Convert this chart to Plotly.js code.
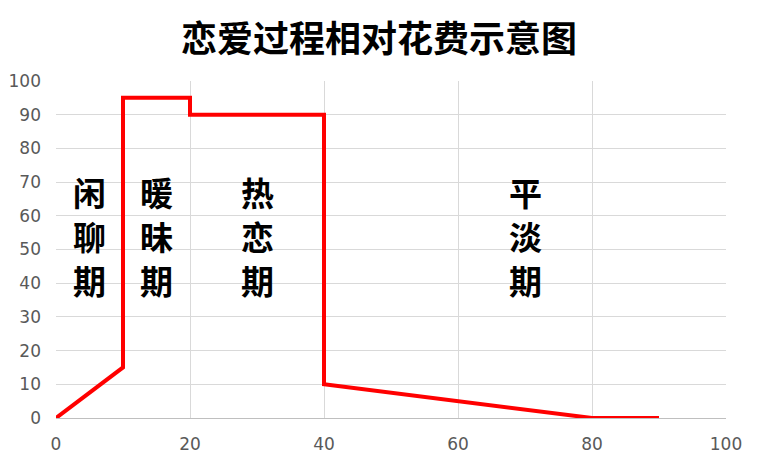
<!DOCTYPE html>
<html>
<head>
<meta charset="utf-8">
<script src="https://cdn.plot.ly/plotly-3.0.1.min.js"></script>
<style>
  html, body { margin: 0; padding: 0; background: #fff; }
  #chart { width: 758px; height: 461px; }
</style>
</head>
<body>
<div id="chart"></div>
<script>
// relative spending over the relationship
var xs = [0, 10, 10, 20, 20, 40, 40, 60, 70, 80, 90];
var ys = [0, 15, 95, 95, 90, 90, 10, 5, 2.5, 0, 0];

// stage labels, written top to bottom one character per row
var stageNames = ['闲聊期', '暖昧期', '热恋期', '平淡期'];
var stageX = [5, 15, 30, 70];
var rowY = [67, 54, 41];

var trace = {
  x: xs,
  y: ys,
  type: 'scatter',
  mode: 'lines',
  line: { color: '#ff0000', width: 4 },
  hoverinfo: 'x+y'
};

var annotations = [];
for (var i = 0; i < stageNames.length; i++) {
  var chars = stageNames[i].split('');
  for (var j = 0; j < chars.length; j++) {
    annotations.push({
      x: stageX[i],
      y: rowY[j],
      xref: 'x',
      yref: 'y',
      text: chars[j],
      showarrow: false,
      font: { family: 'Noto Sans CJK SC', size: 33, color: '#000', weight: 'bold' }
    });
  }
}

var layout = {
  width: 758,
  height: 461,
  margin: { l: 56, r: 32, t: 81, b: 43 },
  paper_bgcolor: '#fff',
  plot_bgcolor: '#fff',
  showlegend: false,
  title: {
    text: '恋爱过程相对花费示意图',
    font: { family: 'Noto Sans CJK SC', size: 36, color: '#000', weight: 'bold' },
    x: 0.5,
    xanchor: 'center',
    y: 0.915,
    yanchor: 'middle'
  },
  xaxis: {
    range: [0, 100],
    dtick: 20,
    showgrid: true,
    gridcolor: '#d9d9d9',
    zeroline: false,
    showline: false,
    ticks: '',
    ticklabelstandoff: 14,
    tickfont: { family: 'DejaVu Sans', size: 17, color: '#595959' }
  },
  yaxis: {
    range: [0, 100],
    dtick: 10,
    showgrid: true,
    gridcolor: '#d9d9d9',
    zeroline: true,
    zerolinecolor: '#bfbfbf',
    zerolinewidth: 1,
    showline: false,
    ticks: '',
    ticklabelstandoff: 14,
    tickfont: { family: 'DejaVu Sans', size: 17, color: '#595959' }
  },
  annotations: annotations
};

Plotly.newPlot('chart', [trace], layout, { displayModeBar: false });
</script>
</body>
</html>
